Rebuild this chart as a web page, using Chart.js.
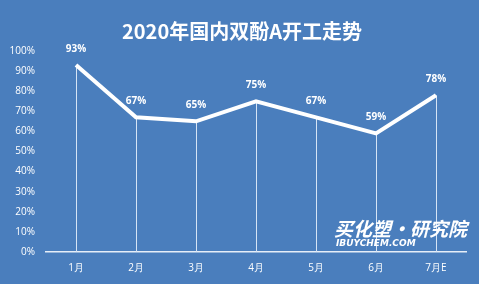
<!DOCTYPE html>
<html>
<head>
<meta charset="utf-8">
<script src="https://cdn.jsdelivr.net/npm/chart.js@4"></script>
<style>
  html, body { margin: 0; padding: 0; background: #4a7ebd; }
  #wrap { position: relative; width: 479px; height: 284px; }
</style>
</head>
<body>
<div id="wrap"><canvas id="chart" width="479" height="284"></canvas></div>
<script>
// Chart data
const months = ['1月', '2月', '3月', '4月', '5月', '6月', '7月E'];
const operatingRates = [93, 67, 65, 75, 67, 59, 78];
const yTicks = [0, 10, 20, 30, 40, 50, 60, 70, 80, 90, 100];

const titleText = '2020年国内双酚A开工走势';

// Background, title, drop lines, labels and watermark
const decorPlugin = {
    id: 'decor',
    beforeDraw(chart) {
        const ctx = chart.ctx;
        ctx.save();
        ctx.fillStyle = '#4a7ebd';
        ctx.fillRect(0, 0, chart.width, chart.height);
        ctx.fillStyle = '#ffffff';
        ctx.font = 'bold 20px "Noto Sans CJK SC"';
        ctx.textAlign = 'center';
        ctx.textBaseline = 'middle';
        ctx.fillText(titleText, 242, 31);
        ctx.restore();
    },
    beforeDatasetsDraw(chart) {
        const ctx = chart.ctx;
        const meta = chart.getDatasetMeta(0);
        const bottom = chart.scales.y.getPixelForValue(0);
        ctx.save();
        ctx.strokeStyle = '#d6e4f5';
        ctx.lineWidth = 1;
        meta.data.forEach(pt => {
            const x = Math.round(pt.x) + 0.5;
            ctx.beginPath();
            ctx.moveTo(x, pt.y);
            ctx.lineTo(x, bottom);
            ctx.stroke();
        });
        ctx.restore();
    },
    afterDatasetsDraw(chart) {
        const ctx = chart.ctx;
        const meta = chart.getDatasetMeta(0);
        ctx.save();
        ctx.fillStyle = '#ffffff';
        ctx.font = 'bold 10px "Open Sans"';
        ctx.textAlign = 'center';
        ctx.textBaseline = 'bottom';
        meta.data.forEach((pt, i) => {
            ctx.fillText(operatingRates[i] + '%', pt.x, pt.y - 11);
        });

        // watermark
        ctx.font = 'italic bold 19px "Noto Sans CJK SC"';
        ctx.textAlign = 'left';
        ctx.textBaseline = 'alphabetic';
        ctx.fillText('买化塑·研究院', 334, 236);
        ctx.font = 'italic bold 9px "DejaVu Sans"';
        ctx.fillText('IBUYCHEM.COM', 336, 246);
        ctx.restore();
    }
};

const ctx = document.getElementById('chart').getContext('2d');
const chart = new Chart(ctx, {
    type: 'line',
    data: {
        labels: months,
        datasets: [{
            data: operatingRates,
            borderColor: '#ffffff',
            borderWidth: 4,
            pointRadius: 0,
            tension: 0,
            fill: false
        }]
    },
    options: {
        responsive: false,
        animation: false,
        layout: { padding: { top: 51, right: 13, bottom: 0, left: 0 } },
        plugins: {
            legend: { display: false },
            tooltip: { enabled: false }
        },
        scales: {
            x: {
                offset: true,
                grid: { display: false, drawTicks: false },
                border: { display: true, color: '#e6eef8', width: 1.5 },
                ticks: {
                    color: '#ffffff',
                    font: { family: 'Open Sans', size: 10 },
                    padding: 10
                }
            },
            y: {
                min: 0,
                max: 100,
                afterBuildTicks(scale) {
                    scale.ticks = yTicks.map(v => ({ value: v }));
                },
                afterFit(scale) { scale.width = 46; },
                grid: { display: false, drawTicks: false },
                border: { display: false },
                ticks: {
                    color: '#ffffff',
                    font: { family: 'Open Sans', size: 10 },
                    padding: 11,
                    callback: v => v + '%'
                }
            }
        }
    },
    plugins: [decorPlugin]
});
</script>
</body>
</html>
